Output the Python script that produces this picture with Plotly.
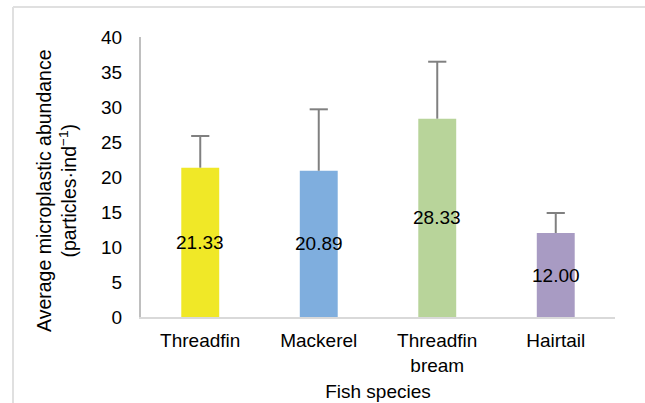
import plotly.graph_objects as go

species = ["Threadfin", "Mackerel", "Threadfin<br>bream", "Hairtail"]
abundance = [21.33, 20.89, 28.33, 12.00]
err_plus = [4.53, 8.78, 8.14, 2.86]
colors = ["#f0e827", "#7faede", "#b8d49a", "#a89bc3"]
y_ticks = [0, 5, 10, 15, 20, 25, 30, 35, 40]

W, H = 645, 403
L, R, T, B = 141, 30, 37, 86
pw, ph = W - L - R, H - T - B

FONT = "Liberation Sans, Arial, sans-serif"
ERR_COLOR = "#808080"

fig = go.Figure()
fig.add_trace(go.Bar(
    x=species, y=abundance,
    marker=dict(color=colors, line=dict(width=0)),
    width=0.32,
    hoverinfo="x+y",
))

# error bars (upper side only)
ex, ey = [], []
for s, v, e in zip(species, abundance, err_plus):
    ex += [s, s, None]
    ey += [v, v + e, None]
fig.add_trace(go.Scatter(
    x=ex, y=ey, mode="lines",
    line=dict(color=ERR_COLOR, width=2), hoverinfo="skip",
))
fig.add_trace(go.Scatter(
    x=species, y=[v + e for v, e in zip(abundance, err_plus)], mode="markers",
    marker=dict(symbol="line-ew", size=13, line=dict(color=ERR_COLOR, width=2)),
    hoverinfo="skip",
))

def px_x(p):
    return (p - L) / pw

def px_y(p):
    return (H - B - p) / ph

annotations = [dict(
    x=s, y=v / 2, xref="x", yref="y", text=f"{v:.2f}", showarrow=False,
    font=dict(family=FONT, size=19, color="#000000"),
    xanchor="center", yanchor="middle",
) for s, v in zip(species, abundance)]

annotations.append(dict(
    text="Average microplastic abundance<br>(particles·ind<sup>−1</sup>)",
    textangle=-90, xref="paper", yref="paper",
    x=px_x(56), y=px_y(191), xanchor="center", yanchor="middle",
    showarrow=False, font=dict(family=FONT, size=19.5, color="#000000"),
))

fig.update_layout(
    width=W, height=H,
    margin=dict(l=L, r=R, t=T, b=B, pad=0, autoexpand=False),
    paper_bgcolor="white", plot_bgcolor="white",
    font=dict(family=FONT, size=19, color="#000000"),
    showlegend=False,
    xaxis=dict(
        showline=True, linecolor="#d9d9d9", linewidth=2,
        showgrid=False, ticks="", tickfont=dict(size=19),
        title=dict(text="Fish species", font=dict(size=19), standoff=10),
        ticklabelstandoff=5, automargin=False,
    ),
    yaxis=dict(
        range=[0, 40], tickvals=y_ticks, ticktext=[str(v) for v in y_ticks],
        showline=True, linecolor="#bfbfbf", linewidth=2,
        showgrid=False, zeroline=False, ticks="", tickfont=dict(size=19),
        ticklabelstandoff=13, automargin=False,
    ),
    annotations=annotations,
    shapes=[
        dict(type="line", xref="paper", yref="paper",
             x0=px_x(13), x1=px_x(13), y0=px_y(7), y1=px_y(403),
             line=dict(color="#e0e0e0", width=2)),
        dict(type="line", xref="paper", yref="paper",
             x0=px_x(13), x1=px_x(645), y0=px_y(7), y1=px_y(7),
             line=dict(color="#e0e0e0", width=2)),
    ],
)

fig.write_html(
    "out.html",
    config={"displayModeBar": False},
    post_script="document.body.style.margin='0';document.body.style.overflow='hidden';",
)
